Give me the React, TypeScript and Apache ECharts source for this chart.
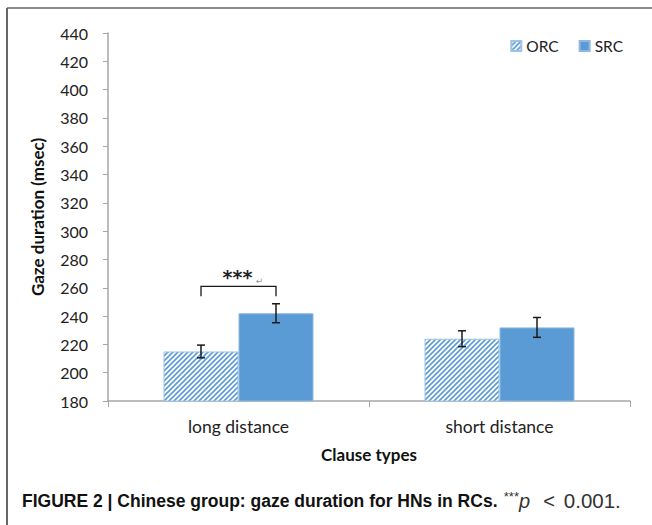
import React, { useEffect, useRef } from "react";
import * as echarts from "echarts";

// Clause types on the x axis
const categories = ["long distance", "short distance"];
// Mean gaze duration (msec)
const orcValues = [215, 224];
const srcValues = [242, 232];
// Half-width of the error bars (msec)
const orcErrors = [4.5, 5.6];
const srcErrors = [6.7, 7];
// Significance bracket over "long distance": [category, top, leg bottom]
const bracket = [[0, 261, 254]];
const yTicks = { min: 180, max: 440, interval: 20 };

const BAR_W = 75;
const FONT = "Lato, 'Open Sans', sans-serif";
const CAPTION_FONT = "'Liberation Sans', Arial, sans-serif";

function makeHatch(): HTMLCanvasElement {
  const c = document.createElement("canvas");
  const s = 5;
  c.width = s;
  c.height = s;
  const ctx = c.getContext("2d")!;
  ctx.fillStyle = "#ffffff";
  ctx.fillRect(0, 0, s, s);
  ctx.strokeStyle = "#5b9bd5";
  ctx.lineWidth = 1.6;
  ctx.beginPath();
  ctx.moveTo(-1, s + 1);
  ctx.lineTo(s + 1, -1);
  ctx.moveTo(-1, 1);
  ctx.lineTo(1, -1);
  ctx.moveTo(s - 1, s + 1);
  ctx.lineTo(s + 1, s - 1);
  ctx.stroke();
  return c;
}

export default function App() {
  const ref = useRef<HTMLDivElement>(null);

  useEffect(() => {
    if (!ref.current) return;
    const chart = echarts.init(ref.current, undefined, { renderer: "svg" });
    const hatch = { image: makeHatch(), repeat: "repeat" } as any;

    const errData = (vals: number[], errs: number[], side: number) =>
      vals.map((v, i) => [i, v - errs[i], v + errs[i], side]);

    const errorSeries = (name: string, data: number[][]) => ({
      type: "custom",
      name,
      silent: true,
      z: 10,
      data,
      renderItem: (params: any, api: any) => {
        const lo = api.coord([api.value(0), api.value(1)]);
        const hi = api.coord([api.value(0), api.value(2)]);
        const x = lo[0] + (api.value(3) * BAR_W) / 2;
        const cap = 4;
        const style = { stroke: "#1a1a1a", lineWidth: 1.5 };
        return {
          type: "group",
          children: [
            { type: "line", shape: { x1: x, y1: lo[1], x2: x, y2: hi[1] }, style },
            { type: "line", shape: { x1: x - cap, y1: lo[1], x2: x + cap, y2: lo[1] }, style },
            { type: "line", shape: { x1: x - cap, y1: hi[1], x2: x + cap, y2: hi[1] }, style },
          ],
        };
      },
    });

    chart.setOption({
      animation: false,
      grid: { left: 108, right: 22, top: 33, bottom: 124 },
      legend: {
        data: ["ORC", "SRC"],
        right: 24,
        top: 33,
        icon: "rect",
        itemWidth: 10,
        itemHeight: 10,
        itemGap: 20,
        textStyle: { fontFamily: FONT, fontSize: 15.5, color: "#222" },
      },
      xAxis: {
        type: "category",
        data: categories,
        name: "Clause types",
        nameLocation: "middle",
        nameGap: 45,
        nameTextStyle: { fontFamily: FONT, fontSize: 17, fontWeight: "bold", color: "#111" },
        axisLine: { lineStyle: { color: "#a6a6a6", width: 1.5 } },
        axisTick: { show: true, length: 6, lineStyle: { color: "#a6a6a6" } },
        axisLabel: { fontFamily: FONT, fontSize: 17.5, color: "#222", margin: 16 },
      },
      yAxis: {
        type: "value",
        min: yTicks.min,
        max: yTicks.max,
        interval: yTicks.interval,
        name: "Gaze duration (msec)",
        nameLocation: "middle",
        nameGap: 62,
        nameTextStyle: { fontFamily: FONT, fontSize: 17, fontWeight: "bold", color: "#111" },
        axisLine: { show: true, lineStyle: { color: "#a6a6a6", width: 1.5 } },
        axisTick: { show: true, length: 5, lineStyle: { color: "#a6a6a6" } },
        splitLine: { show: false },
        axisLabel: { fontFamily: FONT, fontSize: 16, color: "#222", margin: 20 },
      },
      series: [
        {
          type: "bar",
          name: "ORC",
          data: orcValues,
          barWidth: BAR_W,
          barGap: "0%",
          itemStyle: { color: hatch, borderColor: "#9dc3e6", borderWidth: 1 },
        },
        {
          type: "bar",
          name: "SRC",
          data: srcValues,
          barWidth: BAR_W,
          itemStyle: { color: "#5b9bd5", borderColor: "#8fb8e0", borderWidth: 1 },
        },
        errorSeries("ORC err", errData(orcValues, orcErrors, -1)),
        errorSeries("SRC err", errData(srcValues, srcErrors, 1)),
        {
          type: "custom",
          name: "sig",
          silent: true,
          z: 10,
          data: bracket,
          renderItem: (params: any, api: any) => {
            const top = api.coord([api.value(0), api.value(1)]);
            const leg = api.coord([api.value(0), api.value(2)]);
            const x1 = top[0] - BAR_W / 2;
            const x2 = top[0] + BAR_W / 2;
            return {
              type: "group",
              children: [
                {
                  type: "polyline",
                  shape: { points: [[x1, leg[1]], [x1, top[1]], [x2, top[1]], [x2, leg[1]]] },
                  style: { stroke: "#1a1a1a", lineWidth: 1.3, fill: "none" },
                },
                {
                  type: "text",
                  x: top[0] - 1,
                  y: top[1],
                  style: {
                    text: "***",
                    fontFamily: "'DejaVu Sans', sans-serif",
                    fontSize: 19,
                    fontWeight: "bold",
                    fill: "#222",
                    align: "center",
                    verticalAlign: "bottom",
                  },
                },
                {
                  type: "text",
                  x: top[0] + 21,
                  y: top[1] - 1,
                  style: {
                    text: "↵",
                    fontFamily: "'DejaVu Sans', sans-serif",
                    fontSize: 9,
                    fill: "#999",
                    align: "center",
                    verticalAlign: "bottom",
                  },
                },
              ],
            };
          },
        },
      ],
      graphic: [
        { type: "line", shape: { x1: 7, y1: 8, x2: 652, y2: 8 }, style: { stroke: "#666", lineWidth: 1.5 } },
        { type: "line", shape: { x1: 7, y1: 8, x2: 7, y2: 525 }, style: { stroke: "#666", lineWidth: 2 } },
        {
          type: "text",
          left: 22,
          top: 490,
          style: {
            text: "{b|FIGURE 2 | Chinese group: gaze duration for HNs in RCs.} {s|***}{i|p}{n|<}{m|0.001.}",
            rich: {
              b: { fontFamily: CAPTION_FONT, fontSize: 17.5, fontWeight: "bold", fill: "#111" },
              s: { fontFamily: CAPTION_FONT, fontSize: 13, fill: "#333", verticalAlign: "top", padding: [0, 0, 8, 3] },
              i: { fontFamily: CAPTION_FONT, fontSize: 20, fontStyle: "italic", fill: "#333", padding: [0, 13, 0, 0] },
              n: { fontFamily: CAPTION_FONT, fontSize: 20, fill: "#333", padding: [0, 9, 0, 0] },
              m: { fontFamily: CAPTION_FONT, fontSize: 20.5, fill: "#333" },
            },
          },
        },
      ],
    });

    return () => chart.dispose();
  }, []);

  return (
    <div
      ref={ref}
      style={{ position: "absolute", left: 0, top: 0, width: 652, height: 525, background: "#fff" }}
    />
  );
}
